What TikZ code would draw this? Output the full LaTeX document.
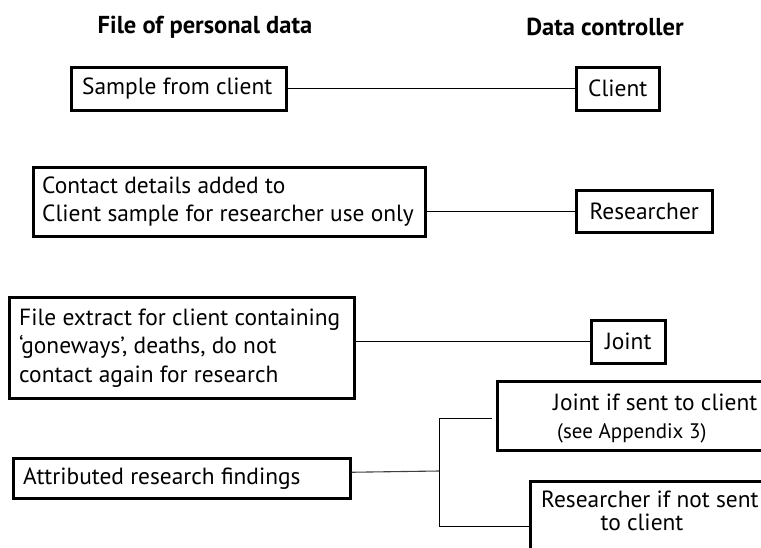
\documentclass[tikz,border=0pt]{standalone}
\usepackage{fontspec}
\setmainfont{PT Sans}
\begin{document}
\begin{tikzpicture}[x=1pt,y=-1pt,
  box/.style={draw=black, line width=2.5pt, inner sep=0pt, anchor=north west},
  txt/.style={inner sep=0pt, font=\fontsize{23.4}{28.5}\selectfont, align=left},
  smalltxt/.style={inner sep=0pt, font=\fontsize{21}{25}\selectfont},
  head/.style={inner sep=0pt, font=\fontsize{24.5}{28}\selectfont\bfseries},
  conn/.style={line width=1pt, draw=black},
  gconn/.style={line width=1.1pt, draw=black!75}]
\useasboundingbox (0,0) rectangle (761,547);
\clip (0,0) rectangle (761,547);
% headings
\node[head] (h1) at (205,27) {File of personal data};
\node[head] (h2) at (605,27) {Data controller};
% boxes
\node[box, minimum width=215pt, minimum height=43pt] (b1) at (70,66) {};
\node[txt, anchor=west] (t1) at ([xshift=12pt]b1.west) {Sample from client};
\node[box, minimum width=83pt, minimum height=43pt] (client) at (575,66) {};
\node[txt] (tclient) at (client.center) {Client};

\node[box, minimum width=392pt, minimum height=69pt] (b2) at (32,166) {};
\node[txt, anchor=west] (t2) at ([xshift=10pt]b2.west) {Contact details added to\\Client sample for researcher use only};
\node[box, minimum width=136pt, minimum height=42pt] (res) at (575,189) {};
\node[txt] (tres) at (res.center) {Researcher};

\node[box, minimum width=345pt, minimum height=101pt] (b3) at (8,296) {};
\node[txt, anchor=west] (t3) at ([xshift=11pt]b3.west) {File extract for client containing\\`goneways', deaths, do not\\contact again for research};
\node[box, minimum width=74pt, minimum height=43pt] (joint) at (590,319) {};
\node[txt] (tjoint) at (joint.center) {Joint};

\node[box, minimum width=337pt, minimum height=40pt] (attr) at (12,457) {};
\node[txt, anchor=west] (t4) at ([xshift=11pt]attr.west) {Attributed research findings};

\node[box, minimum width=290pt, minimum height=69pt] (jif) at (496,380) {};
\node[txt, anchor=base west] (jif1) at (553,410) {Joint if sent to client};
\node[smalltxt, anchor=base west] (jif2) at (557,438) {(see Appendix 3)};

\node[box, minimum width=260pt, minimum height=100pt] (rif) at (529,480) {};
\node[txt, anchor=base west] (rif1) at (541,507) {Researcher if not sent};
\node[txt, anchor=base] (rif2) at (642,530) {to client};

% connectors
\draw[conn] (b1.east) -- (client.west);
\draw[conn] (b2.east |- res.west) -- (res.west);
\draw[conn] (b3.east |- joint.west) -- (joint.west);

\coordinate (brmid) at (439,471);
\coordinate (brtop) at (439,418);
\coordinate (brbot) at (439,526);
\draw[gconn] ([yshift=6pt]attr.east) -- (brmid);
\draw[conn] (brtop) -- (brbot);
\draw[conn, shorten >=4pt] (brtop) -- (brtop -| jif.west);
\draw[conn] (brbot) -- (brbot -| rif.west);
\end{tikzpicture}
\end{document}
